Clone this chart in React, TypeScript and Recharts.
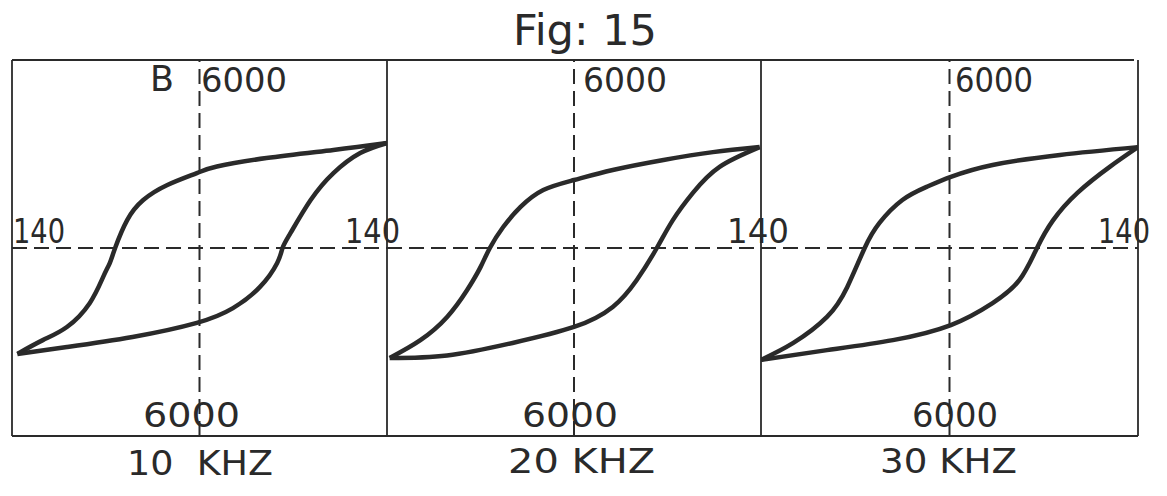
import { LineChart, Line, XAxis, YAxis, ReferenceLine } from "recharts";

// field strength H (-140..140) and induction B (-6000..6000)
const p1UpperH = [-136, -117, -99, -82, -72, -67, -63, -54, -42, -24, -2, 13, 50, 100, 140];
const p1UpperB = [-3380, -2940, -2520, -1760, -930, -480, 0, 890, 1530, 2010, 2390, 2600, 2870, 3130, 3350];
const p1LowerH = [-136, -99, -50, -2, 25, 45, 58, 62, 68, 83, 100, 120, 140];
const p1LowerB = [-3380, -3160, -2840, -2390, -1920, -1250, -480, 0, 480, 1530, 2390, 3030, 3350];

const p2UpperH = [-138, -115, -95, -80, -70, -63, -53, -40, -23, 0, 29, 67, 104, 139];
const p2UpperB = [-3510, -2940, -2200, -1340, -610, 0, 670, 1310, 1850, 2170, 2490, 2810, 3060, 3220];
const p2LowerH = [-138, -95, -46, 0, 29, 47, 62, 74, 89, 109, 139];
const p2LowerB = [-3510, -3430, -3030, -2520, -1880, -1020, 0, 890, 1760, 2590, 3220];

const p3UpperH = [-140, -116, -91, -76, -63, -52, -35, -17, 1, 32, 82, 140];
const p3UpperB = [-3570, -3030, -2200, -1250, 0, 800, 1530, 1950, 2270, 2650, 2970, 3220];
const p3LowerH = [-140, -91, -42, 1, 32, 52, 65, 77, 95, 119, 140];
const p3LowerB = [-3570, -3260, -2940, -2460, -1760, -1020, 0, 890, 1760, 2590, 3220];

const freqLabels = ["10  KHZ", "20 KHZ", "30 KHZ"];
const hLimit = 140;
const bLimit = 6000;

const zip = (h: number[], b: number[]) => h.map((v, i) => ({ h: v, b: b[i] }));

const panels = [
  { left: 12, width: 375, upper: zip(p1UpperH, p1UpperB), lower: zip(p1LowerH, p1LowerB) },
  { left: 387, width: 374, upper: zip(p2UpperH, p2UpperB), lower: zip(p2LowerH, p2LowerB) },
  { left: 761, width: 377, upper: zip(p3UpperH, p3UpperB), lower: zip(p3LowerH, p3LowerB) },
];

const INK = "#2a2a2a";
const FONT = "'DejaVu Sans', sans-serif";

function Loop({ upper, lower, width }: { upper: { h: number; b: number }[]; lower: { h: number; b: number }[]; width: number }) {
  return (
    <LineChart width={width} height={376} margin={{ top: 0, right: 0, bottom: 0, left: 0 }}>
      <XAxis type="number" dataKey="h" domain={[-hLimit, hLimit]} hide allowDuplicatedCategory={false} />
      <YAxis type="number" dataKey="b" domain={[-bLimit, bLimit]} hide />
      <ReferenceLine x={0} stroke={INK} strokeWidth={2} strokeDasharray="15 7" />
      <ReferenceLine y={0} stroke={INK} strokeWidth={2} strokeDasharray="15 7" />
      <Line data={upper} dataKey="b" type="natural" stroke={INK} strokeWidth={4.5} dot={false} isAnimationActive={false} />
      <Line data={lower} dataKey="b" type="natural" stroke={INK} strokeWidth={4.5} dot={false} isAnimationActive={false} />
    </LineChart>
  );
}

export default function App() {
  const txt = { fontFamily: FONT, fill: INK } as const;
  return (
    <div style={{ position: "absolute", left: 0, top: 0, width: 1167, height: 496, background: "#fff" }}>
      {panels.map((p, i) => (
        <div key={i} style={{ position: "absolute", left: p.left, top: 60 }}>
          <Loop upper={p.upper} lower={p.lower} width={p.width} />
        </div>
      ))}
      <svg width={1167} height={496} style={{ position: "absolute", left: 0, top: 0, pointerEvents: "none" }}>
        {/* frame */}
        <line x1={12} y1={60} x2={1134} y2={60} stroke={INK} strokeWidth={1.8} />
        <line x1={12} y1={436} x2={1138} y2={436} stroke={INK} strokeWidth={1.8} />
        {[12, 387, 761, 1138].map((x) => (
          <line key={x} x1={x} y1={60} x2={x} y2={436} stroke={INK} strokeWidth={1.8} />
        ))}

        <text x={585} y={45} textAnchor="middle" fontSize={43} textLength={144} lengthAdjust="spacingAndGlyphs" {...txt}>
          Fig: 15
        </text>
        <text x={150} y={91} fontSize={35} textLength={24} lengthAdjust="spacingAndGlyphs" {...txt}>
          B
        </text>

        {/* top B labels */}
        <text x={201} y={92} fontSize={34} textLength={86} lengthAdjust="spacingAndGlyphs" {...txt}>6000</text>
        <text x={583} y={92} fontSize={34} textLength={84} lengthAdjust="spacingAndGlyphs" {...txt}>6000</text>
        <text x={955} y={92} fontSize={34} textLength={78} lengthAdjust="spacingAndGlyphs" {...txt}>6000</text>

        {/* H labels */}
        <text x={13} y={243} fontSize={34} textLength={52} lengthAdjust="spacingAndGlyphs" {...txt}>140</text>
        <text x={345} y={243} fontSize={34} textLength={55} lengthAdjust="spacingAndGlyphs" {...txt}>140</text>
        <text x={727} y={243} fontSize={34} textLength={62} lengthAdjust="spacingAndGlyphs" {...txt}>140</text>
        <text x={1098} y={243} fontSize={34} textLength={52} lengthAdjust="spacingAndGlyphs" {...txt}>140</text>

        {/* bottom B labels */}
        <text x={143} y={427} fontSize={34} textLength={97} lengthAdjust="spacingAndGlyphs" {...txt}>6000</text>
        <text x={522} y={427} fontSize={34} textLength={96} lengthAdjust="spacingAndGlyphs" {...txt}>6000</text>
        <text x={912} y={427} fontSize={34} textLength={86} lengthAdjust="spacingAndGlyphs" {...txt}>6000</text>

        {/* frequency captions */}
        <text x={127} y={475} fontSize={34} textLength={146} lengthAdjust="spacingAndGlyphs" xmlSpace="preserve" {...txt}>{freqLabels[0]}</text>
        <text x={508} y={473} fontSize={34} textLength={147} lengthAdjust="spacingAndGlyphs" {...txt}>{freqLabels[1]}</text>
        <text x={880} y={473} fontSize={34} textLength={137} lengthAdjust="spacingAndGlyphs" {...txt}>{freqLabels[2]}</text>
      </svg>
    </div>
  );
}
